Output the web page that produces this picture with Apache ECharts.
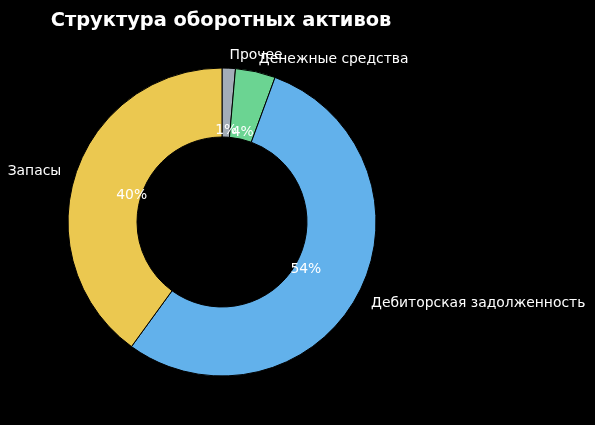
<!DOCTYPE html>
<html>
<head>
<meta charset="utf-8">
<script src="https://cdn.jsdelivr.net/npm/echarts@6/dist/echarts.min.js"></script>
<style>
  html, body { margin: 0; padding: 0; background: #000; }
  #chart { width: 595px; height: 425px; }
</style>
</head>
<body>
<div id="chart"></div>
<script>
// данные (по часовой стрелке от верха)
var names = ['Прочее', 'Денежные средства', 'Дебиторская задолженность', 'Запасы'];
var values = [1.4, 4.2, 54.4, 40.0];
var colors = ['#a3adb8', '#6bd492', '#62b1eb', '#ebc850'];

var center = [222, 222];
var font = 'DejaVu Sans';

var myChart = echarts.init(document.getElementById('chart'));

var ringData = names.map(function (n, i) {
  return { name: n, value: values[i], itemStyle: { color: colors[i] } };
});

var option = {
  backgroundColor: '#000',
  animation: false,
  title: {
    text: 'Структура оборотных активов',
    left: 216,
    textAlign: 'center',
    top: 6,
    textStyle: { color: '#fff', fontFamily: font, fontWeight: 'bold', fontSize: 19.4 }
  },
  series: [
    {
      // кольцо с подписями категорий
      type: 'pie',
      center: center,
      radius: [85, 154],
      startAngle: 90,
      clockwise: true,
      avoidLabelOverlap: false,
      minShowLabelAngle: 0,
      silent: true,
      itemStyle: { borderColor: '#000', borderWidth: 1 },
      label: {
        show: true,
        position: 'outside',
        color: '#fff',
        fontFamily: font,
        fontSize: 13.9,
        distanceToLabelLine: 0,
        formatter: '{b}'
      },
      labelLine: { show: false, length: 15, length2: 0 },
      labelLayout: { hideOverlap: false, dy: 2 },
      data: ringData
    },
    {
      // проценты внутри (прозрачная серия)
      type: 'pie',
      center: center,
      radius: [0, 184],
      startAngle: 90,
      clockwise: true,
      silent: true,
      avoidLabelOverlap: false,
      minShowLabelAngle: 0,
      itemStyle: { color: 'rgba(0,0,0,0)' },
      label: {
        show: true,
        position: 'inside',
        color: '#fff',
        fontFamily: font,
        fontSize: 13.9,
        formatter: function (p) { return Math.round(p.value - 0.0001) + '%'; }
      },
      labelLine: { show: false },
      labelLayout: { hideOverlap: false, dy: 3 },
      data: names.map(function (n, i) { return { name: n, value: values[i] }; })
    }
  ]
};

myChart.setOption(option);
</script>
</body>
</html>
